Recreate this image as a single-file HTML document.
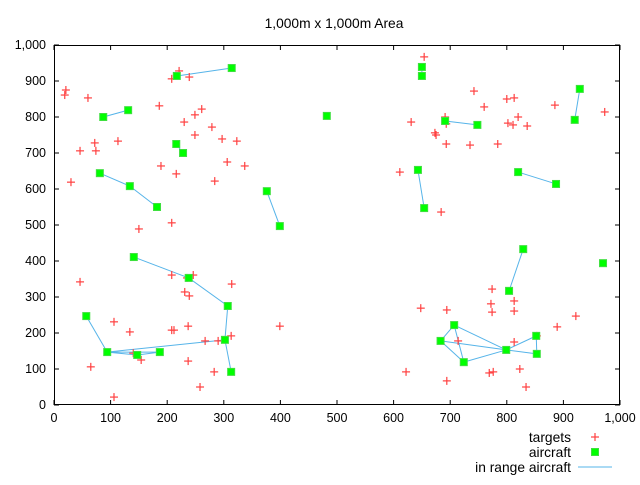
<!DOCTYPE html>
<html><head><meta charset="utf-8"><style>
html,body{margin:0;padding:0;background:#fff;}
svg text{font-family:"Liberation Sans",sans-serif;font-size:12.5px;fill:#000;}
svg text.big{font-size:13.8px;}
</style></head><body>
<svg id="chart" width="640" height="480" viewBox="0 0 640 480" xmlns="http://www.w3.org/2000/svg">
<rect x="0" y="0" width="640" height="480" fill="#fff"/>
<text class="big" x="334" y="28" text-anchor="middle">1,000m x 1,000m Area</text>
<g id="axes"></g>
<g id="lines"></g>
<g id="targets"></g>
<g id="aircraft"></g>
<g id="legend">
  <text class="big" x="571" y="442" text-anchor="end">targets</text>
  <g stroke="#ff4040" stroke-width="1.2"><line x1="591" y1="437" x2="599" y2="437"/><line x1="595" y1="433" x2="595" y2="441"/></g>
  <text class="big" x="571" y="457" text-anchor="end">aircraft</text>
  <rect x="591.5" y="448.5" width="7" height="7" fill="#00ff00" stroke="#3fdf3f" stroke-width="1"/>
  <text class="big" x="571" y="472" text-anchor="end">in range aircraft</text>
  <line x1="578" y1="467" x2="612" y2="467" stroke="#56b4e9" stroke-width="1"/>
</g>
</svg>
<script>
const xTicks = [0,100,200,300,400,500,600,700,800,900,1000];
const yTicks = [0,100,200,300,400,500,600,700,800,900,1000];
const targetX = [221,208,239,21,19,60,186,261,249,230,279,249,297,323,72,113,46,74,189,306,337,216,284,30,208,150,46,208,246,235,314,231,239,106,134,208,212,237,313,267,290,140,154,237,283,65,258,106,399,654,742,760,800,813,885,973,631,691,693,673,675,820,802,811,836,693,735,784,611,684,774,772,774,813,813,648,694,922,889,714,813,853,823,834,622,694,769,776];
const targetY = [928,906,911,875,861,853,831,822,806,786,772,750,739,733,728,733,706,706,664,675,664,642,622,619,506,489,342,361,361,353,336,314,303,231,203,208,208,219,192,178,178,144,125,122,92,106,50,22,219,967,872,828,850,853,833,814,786,800,781,756,750,800,783,778,775,725,722,725,647,536,322,281,258,289,261,269,264,247,217,178,175,192,100,50,92,67,89,92];
const aircraftX = [217,314,87,131,216,228,81,134,182,376,399,482,650,650,691,748,643,654,929,920,820,887,141,238,307,57,94,147,187,302,313,829,804,970,707,683,724,799,852,853];
const aircraftY = [914,936,800,819,725,700,644,608,550,594,497,803,939,914,789,778,653,547,878,792,647,614,411,353,275,247,147,139,147,181,92,433,317,394,222,178,119,153,192,142];
const linkFrom = [0,2,4,6,7,9,12,14,16,18,20,22,23,24,29,25,26,26,26,27,31,34,34,34,35,35,36,37,37,38];
const linkTo   = [1,3,5,7,8,10,13,15,17,19,21,23,24,29,30,26,27,28,29,28,32,35,36,37,36,37,37,38,39,39];

const L=54,R=620,T=45,B=405;
function sx(v){return L+(v-0)/(1000-0)*(R-L);}
function sy(v){return B-(v-0)/(1000-0)*(B-T);}
const NS="http://www.w3.org/2000/svg";
function mk(tag,attrs,parent){const e=document.createElementNS(NS,tag);for(const k in attrs)e.setAttribute(k,attrs[k]);parent.appendChild(e);return e;}
function fmt(v){return v>=1000?Math.floor(v/1000)+","+String(v%1000).padStart(3,"0"):String(v);}

const axes=document.getElementById("axes");
axes.setAttribute("style","font-size:12px");
xTicks.forEach(v=>{
  const x=sx(v);
  const t1=mk("line",{x1:x,y1:B,x2:x,y2:B-5,stroke:"#000","stroke-width":1},axes);
  
  
  const t2=mk("line",{x1:x,y1:T,x2:x,y2:T+5,stroke:"#000","stroke-width":1},axes);
  
  
  const lb=mk("text",{x:x,y:B+17,"text-anchor":"middle"},axes);
  lb.textContent=fmt(v);
  
  
});
yTicks.forEach(v=>{
  const y=sy(v);
  const t1=mk("line",{x1:L,y1:y,x2:L+5,y2:y,stroke:"#000","stroke-width":1},axes);
  
  
  const t2=mk("line",{x1:R,y1:y,x2:R-5,y2:y,stroke:"#000","stroke-width":1},axes);
  
  
  const lb=mk("text",{x:L-8,y:y+4,"text-anchor":"end"},axes);
  lb.textContent=fmt(v);
  
  
});
const frame=mk("rect",{x:L+0.5,y:T+0.5,width:R-L-1,height:B-T-1,fill:"none",stroke:"#000","stroke-width":1},axes);



const lines=document.getElementById("lines");
for(let i=0;i<linkFrom.length;i++){
  const a=linkFrom[i],b=linkTo[i];
  const ln=mk("line",{x1:sx(aircraftX[a]),y1:sy(aircraftY[a]),x2:sx(aircraftX[b]),y2:sy(aircraftY[b]),stroke:"#56b4e9","stroke-width":1},lines);
  
  
}
const tg=document.getElementById("targets");
for(let i=0;i<targetX.length;i++){
  const x=sx(targetX[i]),y=sy(targetY[i]);
  const g=mk("g",{stroke:"#ff4040","stroke-width":1.2},tg);
  
  
  mk("line",{x1:x-4,y1:y,x2:x+4,y2:y},g);
  mk("line",{x1:x,y1:y-4,x2:x,y2:y+4},g);
}
const ac=document.getElementById("aircraft");
for(let i=0;i<aircraftX.length;i++){
  const x=sx(aircraftX[i]),y=sy(aircraftY[i]);
  const r=mk("rect",{x:x-3.5,y:y-3.5,width:7,height:7,fill:"#00ff00",stroke:"#3fdf3f","stroke-width":1},ac);
  
  
}
</script>
</body></html>
